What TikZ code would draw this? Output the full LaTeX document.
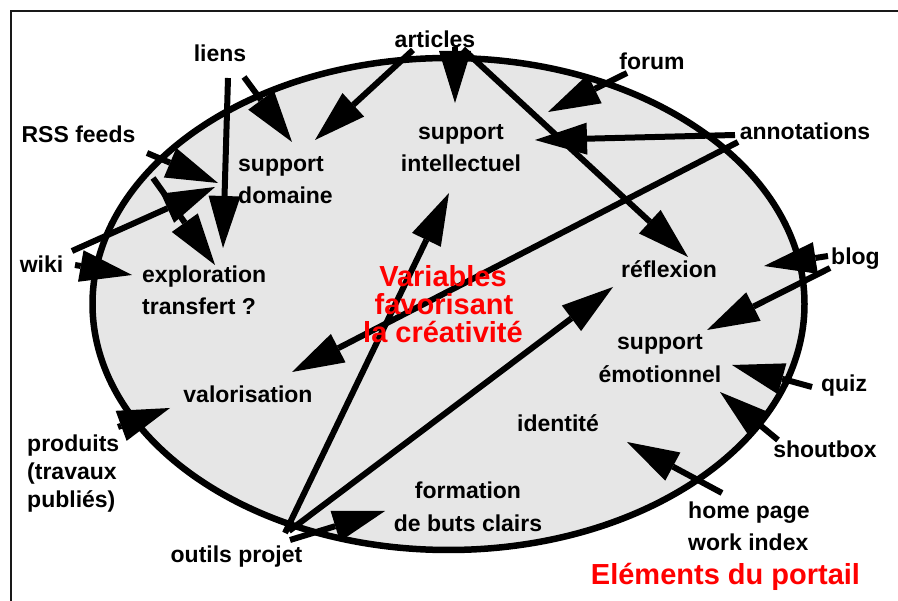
\documentclass[tikz,border=0pt]{standalone}
\usepackage{fontspec}
\setmainfont{Liberation Sans}
\usetikzlibrary{arrows.meta}
\definecolor{ellfill}{HTML}{E6E6E6}
\definecolor{redtxt}{HTML}{FF0000}
\begin{document}
\begin{tikzpicture}[x=1pt,y=-1pt,
  lbl/.style={font=\fontsize{23}{28}\selectfont\bfseries, inner sep=0pt, anchor=base},
  lblw/.style={lbl, anchor=base west},
  redlbl/.style={font=\fontsize{29}{32}\selectfont\bfseries, text=redtxt, inner sep=0pt, anchor=base},
  arr/.style={line width=6pt, -{Triangle[length=52pt,width=32pt,line width=0pt]}}]
\useasboundingbox (0,0) rectangle (898,601);
\fill[white] (0,0) rectangle (898,601);
\draw[line width=2.5pt, black!90] (11,601) -- (11,11) -- (898,11);
\draw[line width=6.5pt, fill=ellfill] (448.5,304) ellipse [x radius=356pt, y radius=246pt];

% arrow end points
\coordinate (liensA) at (244,77);   \coordinate (supdomA) at (292,142);
\coordinate (liensB) at (228,78);   \coordinate (explA) at (223,248);
\coordinate (artA) at (413,50);     \coordinate (supdomB) at (315,140);
\coordinate (artB) at (455,47);     \coordinate (supintA) at (455,103);
\coordinate (artC) at (463,49);     \coordinate (reflA) at (688,257);
\coordinate (forumT) at (627,73);   \coordinate (supintB) at (548,112);
\coordinate (annA) at (735,135);    \coordinate (supintC) at (535,140);
\coordinate (annB) at (738,142);    \coordinate (valA) at (292,372);
\coordinate (rssA) at (147,153);    \coordinate (supdomC) at (218,183);
\coordinate (rssB) at (153,178);    \coordinate (explB) at (215,265);
\coordinate (wikiA) at (72,251);    \coordinate (supdomD) at (215,187);
\coordinate (wikiB) at (75,265);    \coordinate (explC) at (132,275);
\coordinate (prodT) at (118,427);   \coordinate (valB) at (170,408);
\coordinate (outA) at (285,533);    \coordinate (supintD) at (449,193);
\coordinate (outB) at (289,531);    \coordinate (reflB) at (613,287);
\coordinate (outC) at (290,540);    \coordinate (formA) at (385,511);
\coordinate (blogA) at (828,256);   \coordinate (reflC) at (764,266);
\coordinate (blogB) at (830,268);   \coordinate (emoA) at (707,330);
\coordinate (quizT) at (812,387);   \coordinate (emoB) at (732,365);
\coordinate (shoutT) at (778,440);  \coordinate (emoC) at (720,392);
\coordinate (homeT) at (722,493);   \coordinate (identA) at (627,442);

\draw[arr] (liensA) -- (supdomA);
\draw[arr] (liensB) -- (explA);
\draw[arr] (artA) -- (supdomB);
\draw[arr] (artB) -- (supintA);
\draw[arr] (artC) -- (reflA);
\draw[arr] (forumT) -- (supintB);
\draw[arr] (annA) -- (supintC);
\draw[arr] (annB) -- (valA);
\draw[arr] (rssA) -- (supdomC);
\draw[arr] (rssB) -- (explB);
\draw[arr] (wikiA) -- (supdomD);
\draw[arr] (wikiB) -- (explC);
\draw[arr] (prodT) -- (valB);
\draw[arr] (outA) -- (supintD);
\draw[arr] (outB) -- (reflB);
\draw[arr] (outC) -- (formA);
\draw[arr] (blogA) -- (reflC);
\draw[arr] (blogB) -- (emoA);
\draw[arr] (quizT) -- (emoB);
\draw[arr] (shoutT) -- (emoC);
\draw[arr] (homeT) -- (identA);

% labels
\node[lbl] (liens) at (220,62) {liens};
\node[lbl] (articles) at (435,48) {articles};
\node[lbl] (forum) at (652,70) {forum};
\node[lbl] (annotations) at (805,140) {annotations};
\node[lbl] (rss) at (78.5,143) {RSS feeds};
\node[lblw] (supdom1) at (238,172) {support};
\node[lblw] (supdom2) at (238,204) {domaine};
\node[lbl] (supint1) at (461,140) {support};
\node[lbl] (supint2) at (461,172) {intellectuel};
\node[lbl] (wiki) at (41.5,273) {wiki};
\node[lblw] (expl1) at (142,283) {exploration};
\node[lblw] (expl2) at (142,315) {transfert ?};
\node[redlbl] (var1) at (443,286.5) {Variables};
\node[redlbl] (var2) at (444,315) {favorisant};
\node[redlbl] (var3) at (443,343) {la créativité};
\node[lbl] (refl) at (669,278) {réflexion};
\node[lbl] (blog) at (855.5,265) {blog};
\node[lbl] (emo1) at (660,350) {support};
\node[lbl] (emo2) at (660,383) {émotionnel};
\node[lbl] (valor) at (248,403) {valorisation};
\node[lbl] (quiz) at (844,392) {quiz};
\node[lblw] (prod1) at (27,452) {produits};
\node[lblw] (prod2) at (27,480) {(travaux};
\node[lblw] (prod3) at (27,508) {publiés)};
\node[lbl] (ident) at (558,432) {identité};
\node[lbl] (shout) at (825,458) {shoutbox};
\node[lbl] (form1) at (468,499) {formation};
\node[lbl] (form2) at (468,532) {de buts clairs};
\node[lblw] (home1) at (688,519) {home page};
\node[lblw] (home2) at (688,551) {work index};
\node[lbl] (outils) at (236.5,563) {outils projet};
\node[redlbl] (elem) at (725.5,585) {Eléments du portail};
\end{tikzpicture}
\end{document}
